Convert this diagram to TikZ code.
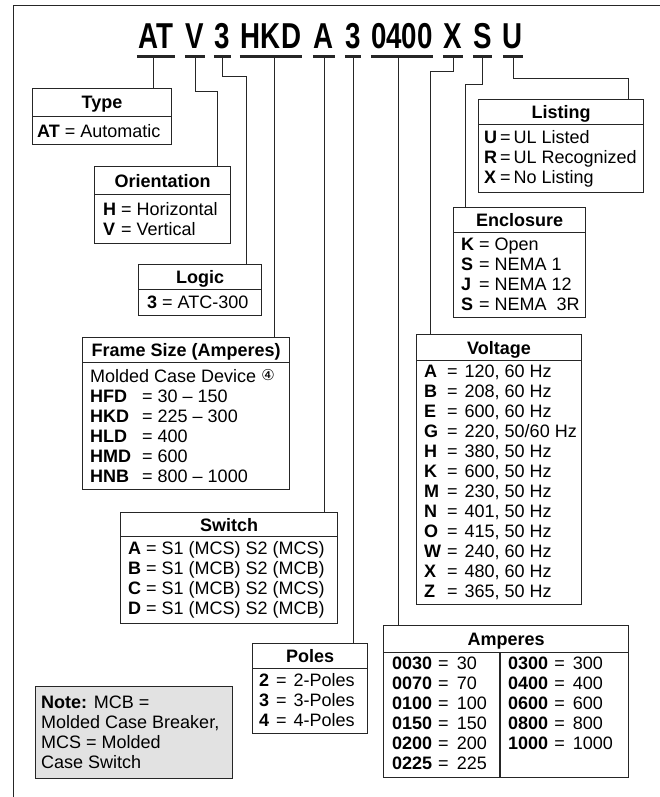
\documentclass[tikz,border=0pt]{standalone}
\usepackage{fontspec}
\setmainfont{Liberation Sans}
\newfontfamily\codefont[FakeStretch=0.77]{Liberation Sans}
\newfontfamily\symfont{DejaVu Sans}
\usetikzlibrary{calc}

\definecolor{ink}{HTML}{262626}
\definecolor{notegray}{HTML}{E2E2E2}

\tikzset{
  box/.style={draw=ink, line width=1.1pt, anchor=north west, inner sep=0pt},
  head/.style={box, font=\bfseries, text height=12.9pt, text depth=0pt},
  list/.style={anchor=north west, inner sep=0pt},
  code/.style={font=\codefont\bfseries\fontsize{36}{36}\selectfont, inner sep=0pt, text depth=7pt, anchor=base},
  uline/.style={ink, line width=3pt},
  wire/.style={ink, line width=1pt},
}

\begin{document}
\fontsize{18}{20}\selectfont
\begin{tikzpicture}[x=1pt, y=-1pt]

\useasboundingbox (0,0) rectangle (660,797);
\draw[ink, line width=0.9pt] (13.5,797) -- (13.5,5) -- (660,5);

\node[code, minimum width=38pt] (cAT) at (156,49) {AT};
\node[code, minimum width=20pt] (cV) at (195,49) {V};
\node[code, minimum width=17pt] (c3a) at (222.5,49) {3};
\node[code, minimum width=62pt] (cHKD) at (271,49) {HKD};
\node[code, minimum width=22pt] (cA) at (324,49) {A};
\node[code, minimum width=16pt] (c3b) at (353,49) {3};
\node[code, minimum width=62pt] (c0400) at (402,49) {0400};
\node[code, minimum width=20pt] (cX) at (453,49) {X};
\node[code, minimum width=19pt] (cS) at (482.5,49) {S};
\node[code, minimum width=20pt] (cU) at (513,49) {U};
\foreach \c in {cAT,cV,c3a,cHKD,cA,c3b,c0400,cX,cS,cU}
  \draw[uline] (\c.south west) -- (\c.south east);

\node[box, minimum width=139pt, minimum height=56pt] (type) at (32,88) {};
\node[head, minimum width=139pt, minimum height=28pt] (typeh) at (type.north west) {Type};
\node[list] (typel) at (37,123.5) {\begin{tabular}{@{}l@{}}\textbf{AT} = Automatic\end{tabular}};

\node[box, minimum width=136pt, minimum height=77pt] (orient) at (94,166) {};
\node[head, minimum width=136pt, minimum height=28pt] (orienth) at (orient.north west) {Orientation};
\node[list] (orientl) at (103,201) {\begin{tabular}{@{}l@{\ =\ }l@{}}
  \textbf{H} & Horizontal\\ \textbf{V} & Vertical\end{tabular}};

\node[box, minimum width=123pt, minimum height=51pt] (logic) at (138,264) {};
\node[head, minimum width=123pt, minimum height=25pt] (logich) at (logic.north west) {Logic};
\node[list] (logicl) at (147,294) {\begin{tabular}{@{}l@{\ =\ }l@{}}\textbf{3} & ATC-300\end{tabular}};

\node[box, minimum width=207pt, minimum height=152pt] (frame) at (82,337) {};
\node[head, minimum width=207pt, minimum height=25pt] (frameh) at (frame.north west) {Frame Size (Amperes)};
\node[list] (framel) at (90,368.5) {\begin{tabular}{@{}p{52pt}@{}l@{}}
  \multicolumn{2}{@{}l@{}}{Molded Case Device\hspace{5pt}\raisebox{2.5pt}{\symfont\fontsize{15}{15}\selectfont ④}}\\
  \textbf{HFD} & = 30 – 150\\
  \textbf{HKD} & = 225 – 300\\
  \textbf{HLD} & = 400\\
  \textbf{HMD} & = 600\\
  \textbf{HNB} & = 800 – 1000\end{tabular}};

\node[box, minimum width=217pt, minimum height=111pt] (switch) at (120,512) {};
\node[head, minimum width=217pt, minimum height=24pt] (switchh) at (switch.north west) {Switch};
\node[list] (switchl) at (128,540.5) {\begin{tabular}{@{}l@{\ =\ }l@{}}
  \textbf{A} & S1 (MCS) S2 (MCS)\\
  \textbf{B} & S1 (MCB) S2 (MCB)\\
  \textbf{C} & S1 (MCB) S2 (MCS)\\
  \textbf{D} & S1 (MCS) S2 (MCB)\end{tabular}};

\node[box, minimum width=115pt, minimum height=90pt] (poles) at (252,643) {};
\node[head, minimum width=115pt, minimum height=25pt] (polesh) at (poles.north west) {Poles};
\node[list] (polesl) at (259,672.5) {\begin{tabular}{@{}l@{\hspace{7pt}=\hspace{7pt}}l@{}}
  \textbf{2} & 2-Poles\\ \textbf{3} & 3-Poles\\ \textbf{4} & 4-Poles\end{tabular}};

\node[box, fill=notegray, minimum width=197pt, minimum height=92pt] (note) at (35,686) {};
\node[list] (notel) at (41,694.5) {\begin{tabular}{@{}l@{}}
  \textbf{Note:} MCB =\\ Molded Case Breaker,\\ MCS = Molded\\ Case Switch\end{tabular}};

\node[box, minimum width=165pt, minimum height=93pt] (listing) at (478,99) {};
\node[head, minimum width=165pt, minimum height=25pt] (listingh) at (listing.north west) {Listing};
\node[list] (listingl) at (484,129.5) {\begin{tabular}{@{}l@{\hspace{3pt}=\hspace{3pt}}l@{}}
  \textbf{U} & UL Listed\\ \textbf{R} & UL Recognized\\ \textbf{X} & No Listing\end{tabular}};

\node[box, minimum width=132pt, minimum height=110pt] (encl) at (453,207) {};
\node[head, minimum width=132pt, minimum height=25pt] (enclh) at (encl.north west) {Enclosure};
\node[list] (encll) at (461,236.5) {\begin{tabular}{@{}l@{\ =\ }l@{}}
  \textbf{K} & Open\\ \textbf{S} & NEMA 1\\ \textbf{J} & NEMA 12\\ \textbf{S} & NEMA\ \ 3R\end{tabular}};

\node[box, minimum width=165pt, minimum height=270pt] (volt) at (416,334) {};
\node[head, minimum width=165pt, minimum height=26pt] (volth) at (volt.north west) {Voltage};
\node[list] (voltl) at (424,363.5) {\begin{tabular}{@{}l@{\hspace{6pt}=\hspace{7pt}}l@{}}
  \textbf{A} & 120, 60 Hz\\
  \textbf{B} & 208, 60 Hz\\
  \textbf{E} & 600, 60 Hz\\
  \textbf{G} & 220, 50/60 Hz\\
  \textbf{H} & 380, 50 Hz\\
  \textbf{K} & 600, 50 Hz\\
  \textbf{M} & 230, 50 Hz\\
  \textbf{N} & 401, 50 Hz\\
  \textbf{O} & 415, 50 Hz\\
  \textbf{W} & 240, 60 Hz\\
  \textbf{X} & 480, 60 Hz\\
  \textbf{Z} & 365, 50 Hz\end{tabular}};

\node[box, minimum width=245pt, minimum height=152pt] (amps) at (383,625) {};
\node[head, minimum width=245pt, minimum height=27pt] (ampsh) at (amps.north west) {Amperes};
\draw[ink, line width=1.1pt] (500,652) -- (500,777);
\node[list] (ampsl) at (392,655.5) {\begin{tabular}{@{}l@{\hspace{6pt}=\hspace{8pt}}l@{}}
  \textbf{0030} & 30\\ \textbf{0070} & 70\\ \textbf{0100} & 100\\
  \textbf{0150} & 150\\ \textbf{0200} & 200\\ \textbf{0225} & 225\end{tabular}};
\node[list] (ampsr) at (508,655.5) {\begin{tabular}{@{}l@{\hspace{6pt}=\hspace{8pt}}l@{}}
  \textbf{0300} & 300\\ \textbf{0400} & 400\\ \textbf{0600} & 600\\
  \textbf{0800} & 800\\ \textbf{1000} & 1000\end{tabular}};

\coordinate (atx) at ($(cAT.south)+(-3,0)$);
\draw[wire] (atx) -- (atx |- type.north);
\coordinate (vbend) at (217,92);
\draw[wire] (cV.south) |- (vbend) -- (vbend |- orient.north);
\coordinate (lbend) at (246.5,77);
\draw[wire] (c3a.south) |- (lbend) -- (lbend |- logic.north);
\coordinate (hx) at ($(cHKD.south)+(3,0)$);
\draw[wire] (hx) -- (hx |- frame.north);
\draw[wire] (cA.south) -- (cA.south |- switch.north);
\draw[wire] (c3b.south) -- (c3b.south |- poles.north);
\coordinate (ax) at ($(c0400.south)+(-4,0)$);
\draw[wire] (ax) -- (ax |- amps.north);
\coordinate (xbend) at (430,72);
\draw[wire] (cX.south) |- (xbend) -- (xbend |- volt.north);
\coordinate (sbend) at (465,85);
\draw[wire] (cS.south) |- (sbend) -- (sbend |- encl.north);
\coordinate (ubend) at (628,79);
\draw[wire] (cU.south) |- (ubend) -- (ubend |- listing.north);

\end{tikzpicture}
\end{document}
